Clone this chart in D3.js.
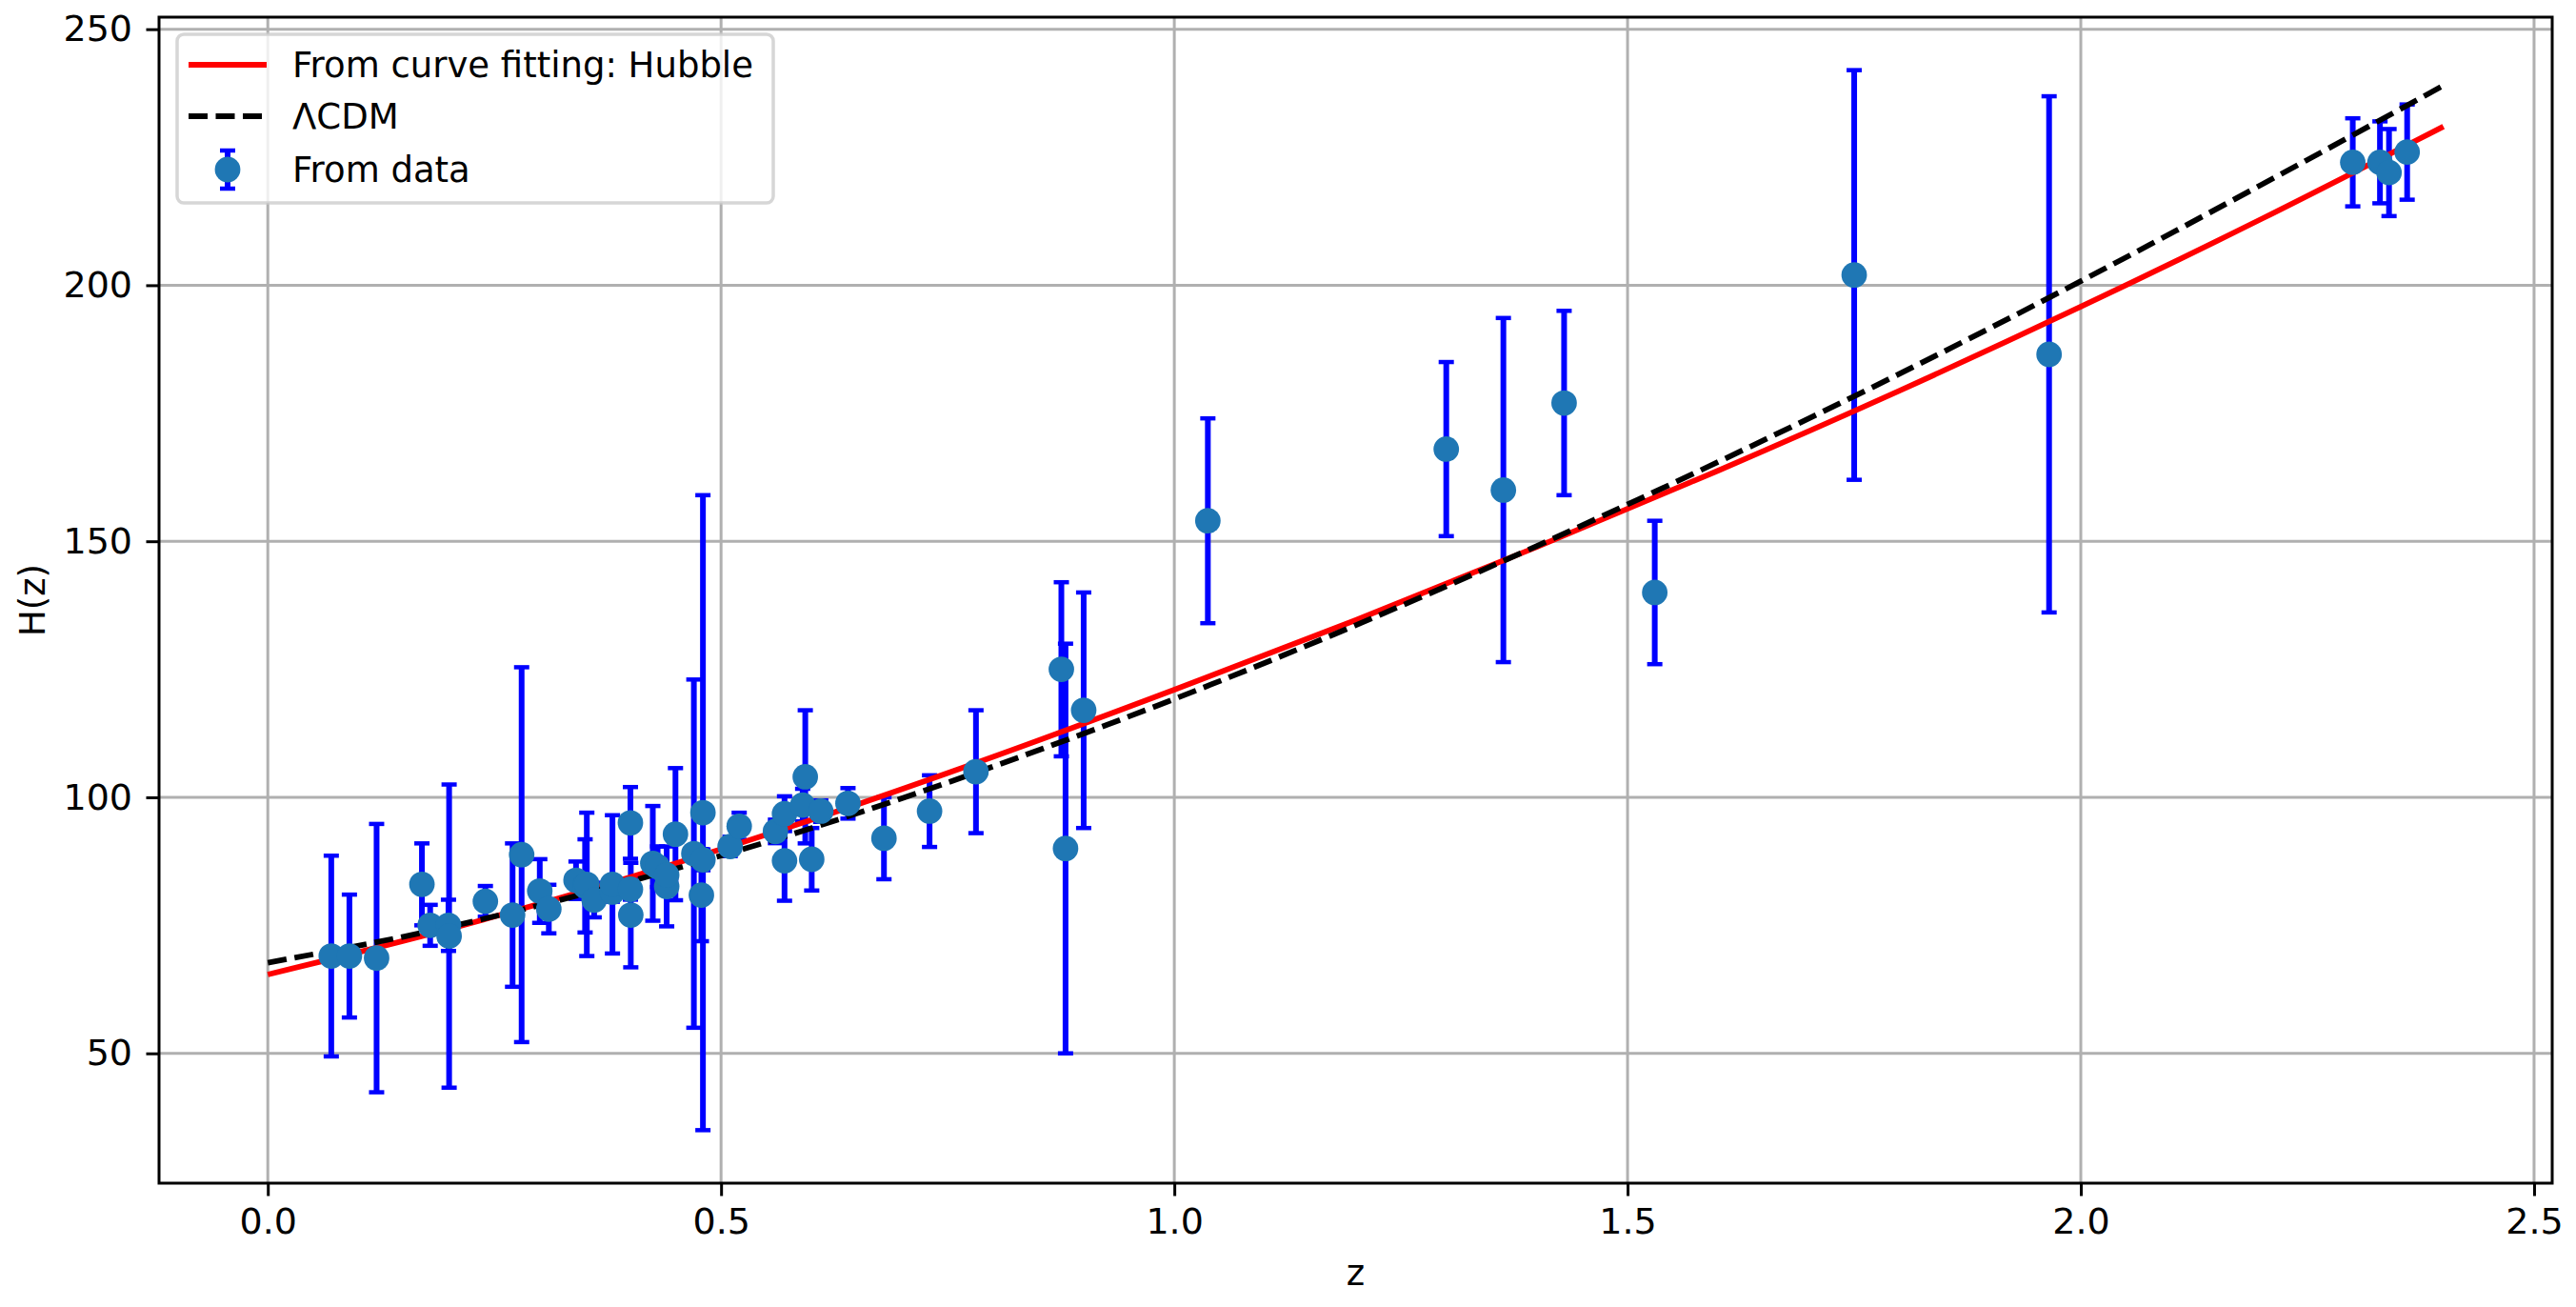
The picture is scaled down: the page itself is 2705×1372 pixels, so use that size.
<!DOCTYPE html>
<html>
<head>
<meta charset="utf-8">
<script src="https://cdn.jsdelivr.net/npm/d3@7"></script>
<style>
  body { margin: 0; background: #fff; }
  text { font-family: "DejaVu Sans", sans-serif; }
</style>
</head>
<body>
<svg id="chart" width="2705" height="1372"></svg>
<script>
// H(z) measurements: redshift, value, error
const zData = [0.07, 0.09, 0.12, 0.17, 0.1791, 0.1993, 0.2, 0.24, 0.27, 0.28,
  0.3, 0.31, 0.34, 0.35, 0.3519, 0.36, 0.38, 0.3802, 0.4, 0.4, 0.4004,
  0.4247, 0.43, 0.44, 0.44, 0.4497, 0.47, 0.4783, 0.48, 0.48, 0.51, 0.52,
  0.56, 0.57, 0.57, 0.59, 0.5929, 0.6, 0.61, 0.64, 0.6797, 0.73, 0.7812,
  0.8754, 0.88, 0.9, 1.037, 1.3, 1.363, 1.43, 1.53, 1.75, 1.965,
  2.3, 2.33, 2.34, 2.36];
const hData = [69, 69, 68.6, 83, 75, 75, 72.9, 79.69, 77, 88.8,
  81.7, 78.18, 83.8, 82.7, 83, 79.94, 81.5, 83, 95, 82.04, 77,
  87.1, 86.45, 82.6, 84.81, 92.8, 89, 80.9, 97, 87.79, 90.4, 94.35,
  93.34, 87.6, 96.8, 98.48, 104, 87.9, 97.3, 98.82, 92, 97.3, 105,
  125, 90, 117, 154, 168, 160, 177, 140, 202, 186.5,
  224, 224, 222, 226];
const sData = [19.6, 12, 26.2, 8, 4, 5, 29.6, 2.99, 14, 36.6,
  6.22, 4.74, 3.66, 9.1, 14, 3.38, 1.9, 13.5, 7, 2.03, 10.2,
  11.2, 3.97, 7.8, 1.83, 12.9, 34, 9, 62, 2.03, 1.9, 2.64,
  2.3, 7.8, 3.4, 3.18, 13, 6.1, 2.1, 2.98, 8, 7, 12,
  17, 40, 23, 20, 17, 33.6, 18, 14, 40, 50.4,
  8.6, 8, 8.5, 9.3];

// model curves
const zCurve = [0, 0.2, 0.4, 0.6, 0.8, 1.0, 1.2, 1.4, 1.6, 1.8, 2.0, 2.2, 2.4];
const hFit = [65.4, 74.3, 84.4, 95.6, 107.9, 121.0, 134.6, 148.9, 163.8, 179.4, 195.8, 213.0, 231.0];
const hLCDM = [67.7, 74.7, 83.6, 94.0, 106.0, 119.2, 133.6, 149.1, 165.5, 182.7, 200.8, 219.7, 239.0];

const xTicks = [0, 0.5, 1.0, 1.5, 2.0, 2.5];
const yTicks = [50, 100, 150, 200, 250];
const legendLabels = ['From curve fitting: Hubble', '\u039bCDM', 'From data'];

const pLeft = 167, pRight = 2680, pTop = 18, pBottom = 1242;
const lw = 5.8;

const svg = d3.select('#chart');

const x = d3.scaleLinear().domain([-0.12, 2.52]).range([pLeft, pRight]);
const y = d3.scaleLinear().domain([24.65, 252.35]).range([pBottom, pTop]);

// grille
const grid = svg.append('g').attr('stroke', '#b0b0b0').attr('stroke-width', 3);
grid.selectAll('.gx').data(xTicks).join('line')
  .attr('x1', d => x(d)).attr('x2', d => x(d))
  .attr('y1', pTop).attr('y2', pBottom);
grid.selectAll('.gy').data(yTicks).join('line')
  .attr('x1', pLeft).attr('x2', pRight)
  .attr('y1', d => y(d)).attr('y2', d => y(d));

// axes
const xAxis = svg.append('g')
  .attr('transform', `translate(0,${pBottom})`)
  .call(d3.axisBottom(x).tickValues(xTicks).tickFormat(d3.format('.1f'))
    .tickSize(13.5).tickPadding(12.5).tickSizeOuter(0));
const yAxis = svg.append('g')
  .attr('transform', `translate(${pLeft},0)`)
  .call(d3.axisLeft(y).tickValues(yTicks).tickFormat(d3.format('d'))
    .tickSize(13.5).tickPadding(14.5).tickSizeOuter(0));
[xAxis, yAxis].forEach(a => {
  a.select('.domain').remove();
  a.selectAll('line').attr('stroke', '#000').attr('stroke-width', 3);
  a.selectAll('text').attr('font-size', 38).attr('fill', '#000')
    .attr('font-family', '"DejaVu Sans", sans-serif');
});

// barres d'erreur
const idx = d3.range(zData.length);
const bars = svg.append('g').attr('stroke', '#0000ff');
bars.selectAll('.bar').data(idx).join('line')
  .attr('stroke-width', 6)
  .attr('x1', i => x(zData[i])).attr('x2', i => x(zData[i]))
  .attr('y1', i => y(hData[i] - sData[i])).attr('y2', i => y(hData[i] + sData[i]));
[-1, 1].forEach(sign => {
  bars.append('g').selectAll('line').data(idx).join('line')
    .attr('stroke-width', 4.5)
    .attr('x1', i => x(zData[i]) - 8).attr('x2', i => x(zData[i]) + 8)
    .attr('y1', i => y(hData[i] + sign * sData[i]))
    .attr('y2', i => y(hData[i] + sign * sData[i]));
});

// courbes
const line = d3.line().x(d => x(d[0])).y(d => y(d[1])).curve(d3.curveMonotoneX);
svg.append('path')
  .attr('d', line(zCurve.map((z, i) => [z, hFit[i]])))
  .attr('fill', 'none').attr('stroke', '#ff0000').attr('stroke-width', lw);
svg.append('path')
  .attr('d', line(zCurve.map((z, i) => [z, hLCDM[i]])))
  .attr('fill', 'none').attr('stroke', '#000').attr('stroke-width', lw)
  .attr('stroke-dasharray', '20,8.5');

// points
svg.append('g').selectAll('circle').data(idx).join('circle')
  .attr('cx', i => x(zData[i])).attr('cy', i => y(hData[i]))
  .attr('r', 13.4).attr('fill', '#1f77b4');

// cadre
svg.append('rect')
  .attr('x', pLeft).attr('y', pTop)
  .attr('width', pRight - pLeft).attr('height', pBottom - pTop)
  .attr('fill', 'none').attr('stroke', '#000').attr('stroke-width', 3);

// titres des axes
svg.append('text').attr('x', (pLeft + pRight) / 2).attr('y', 1349)
  .attr('text-anchor', 'middle').attr('font-size', 37).text('z');
svg.append('text').attr('transform', 'translate(47,630) rotate(-90)')
  .attr('text-anchor', 'middle').attr('font-size', 37).text('H(z)');

// légende
const lg = svg.append('g');
lg.append('rect').attr('x', 186).attr('y', 36).attr('width', 626).attr('height', 177)
  .attr('rx', 7).attr('fill', '#fff').attr('fill-opacity', 0.8)
  .attr('stroke', '#cccccc').attr('stroke-opacity', 0.8).attr('stroke-width', 3.5);
const rowY = [68, 122, 178];
lg.append('line').attr('x1', 198).attr('x2', 280).attr('y1', rowY[0]).attr('y2', rowY[0])
  .attr('stroke', '#ff0000').attr('stroke-width', lw);
lg.append('line').attr('x1', 198).attr('x2', 280).attr('y1', rowY[1]).attr('y2', rowY[1])
  .attr('stroke', '#000').attr('stroke-width', lw).attr('stroke-dasharray', '20,8.5');
lg.append('line').attr('x1', 239).attr('x2', 239).attr('y1', rowY[2] - 20).attr('y2', rowY[2] + 20)
  .attr('stroke', '#0000ff').attr('stroke-width', 6);
[-20, 20].forEach(o => lg.append('line').attr('x1', 231).attr('x2', 247)
  .attr('y1', rowY[2] + o).attr('y2', rowY[2] + o).attr('stroke', '#0000ff').attr('stroke-width', 4.5));
lg.append('circle').attr('cx', 239).attr('cy', rowY[2]).attr('r', 13.4).attr('fill', '#1f77b4');
lg.selectAll('.lt').data(legendLabels).join('text')
  .attr('x', 307).attr('y', (d, i) => rowY[i] + 13)
  .attr('font-size', 37).text(d => d);
</script>
</body>
</html>
